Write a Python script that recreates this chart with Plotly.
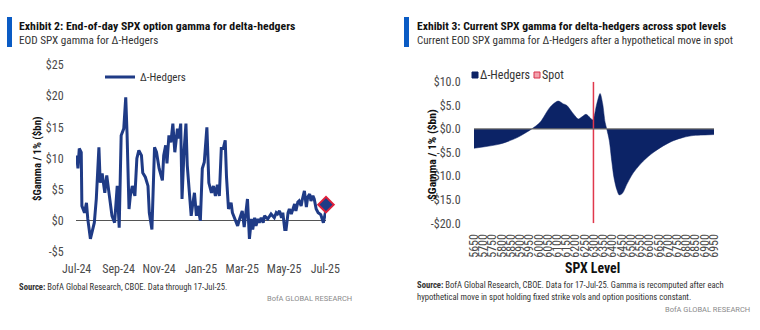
import plotly.graph_objects as go

# ---------------- Exhibit 2: end-of-day SPX gamma for delta-hedgers ($bn per 1%) ----------------
hedger_dates = [
    "2024-07-01", "2024-07-03", "2024-07-05", "2024-07-08", "2024-07-09", "2024-07-13",
    "2024-07-16", "2024-07-18", "2024-07-22", "2024-07-25", "2024-07-28", "2024-07-31",
    "2024-08-04", "2024-08-06", "2024-08-09", "2024-08-13", "2024-08-16", "2024-08-20",
    "2024-08-24", "2024-08-28", "2024-09-01", "2024-09-04", "2024-09-07", "2024-09-11",
    "2024-09-14", "2024-09-16", "2024-09-19", "2024-09-21", "2024-09-24", "2024-09-28",
    "2024-10-01", "2024-10-04", "2024-10-08", "2024-10-10", "2024-10-14", "2024-10-18",
    "2024-10-20", "2024-10-24", "2024-10-28", "2024-10-31", "2024-11-04", "2024-11-09",
    "2024-11-11", "2024-11-14", "2024-11-16", "2024-11-19", "2024-11-22", "2024-11-25",
    "2024-11-28", "2024-12-02", "2024-12-04", "2024-12-07", "2024-12-09", "2024-12-12",
    "2024-12-15", "2024-12-17", "2024-12-20", "2024-12-23", "2024-12-25", "2024-12-28",
    "2024-12-31", "2025-01-02", "2025-01-06", "2025-01-09", "2025-01-12", "2025-01-16",
    "2025-01-19", "2025-01-23", "2025-01-26", "2025-01-29", "2025-02-01", "2025-02-04",
    "2025-02-07", "2025-02-10", "2025-02-13", "2025-02-15", "2025-02-18", "2025-02-22",
    "2025-02-24", "2025-03-01", "2025-03-04", "2025-03-07", "2025-03-11", "2025-03-14",
    "2025-03-17", "2025-03-19", "2025-03-22", "2025-03-25", "2025-03-27", "2025-03-30",
    "2025-04-01", "2025-04-04", "2025-04-06", "2025-04-09", "2025-04-12", "2025-04-14",
    "2025-04-19", "2025-04-24", "2025-04-29", "2025-05-02", "2025-05-04", "2025-05-07",
    "2025-05-10", "2025-05-12", "2025-05-15", "2025-05-17", "2025-05-20", "2025-05-22",
    "2025-05-25", "2025-05-27", "2025-05-30", "2025-06-01", "2025-06-04", "2025-06-06",
    "2025-06-09", "2025-06-11", "2025-06-14", "2025-06-17", "2025-06-19", "2025-06-22",
    "2025-06-24", "2025-06-27", "2025-06-29", "2025-07-02", "2025-07-05", "2025-07-09",
    "2025-07-12", "2025-07-13", "2025-07-16", "2025-07-17",
]
hedger_gamma = [
    10.5, 8.4, 11.6, 11.0, 2.4, 1.3,
    2.9, 0.3, -2.9, -1.5, -0.3, 3.5,
    11.8, 6.1, 7.6, 4.5, 7.3, 4.0,
    0.8, -0.3, 5.6, -1.1, 13.7, 14.8,
    19.8, 14.0, 1.9, 4.0, 5.6, 4.0,
    10.0, 11.3, 10.5, 7.7, 7.0, 5.6,
    1.3, -1.4, 11.8, 11.0, 8.4, 6.5,
    10.5, 12.1, 9.2, 13.7, 12.6, 15.6,
    11.0, 14.8, 13.2, 15.6, 3.5, 11.0,
    15.6, 8.9, 4.0, 0.8, 2.4, 4.5,
    0.8, 2.4, 0.0, 8.4, 9.4, 15.0,
    6.1, 4.5, 5.6, 4.0, 5.8, 4.0,
    11.6, 11.6, 12.9, 7.0, 1.9, 2.9,
    1.3, 0.0, -0.8, 0.3, 1.6, -1.0,
    1.3, 3.5, -2.9, 0.3, -1.4, 0.5,
    -0.8, 0.3, -0.3, 0.5, -0.3, 0.8,
    0.3, 1.1, 0.5, 1.3, 1.1, 1.6,
    0.5, 1.3, -1.4, -1.4, 1.3, 1.9,
    1.1, 1.9, 2.7, 1.6, 3.0, 3.2,
    2.4, 3.5, 4.8, 2.2, 3.8, 4.3,
    3.2, 4.0, 3.5, 1.9, 1.3, 1.0,
    0.0, -0.3, 1.3, 2.6,
]
history_ticks = ["2024-07-01", "2024-09-03", "2024-11-04", "2025-01-07",
                 "2025-03-11", "2025-05-14", "2025-07-16"]
history_tick_text = ["Jul-24", "Sep-24", "Nov-24", "Jan-25", "Mar-25", "May-25", "Jul-25"]
history_y_ticks = [-5, 0, 5, 10, 15, 20, 25]
history_y_text = ["-$5", "$0", "$5", "$10", "$15", "$20", "$25"]

# ---------------- Exhibit 3: gamma after a hypothetical move in spot ----------------
spx_levels = [5650, 5791, 5881, 5935, 5963, 6008, 6062, 6105, 6134, 6152,
              6188, 6215, 6233, 6257, 6278, 6293, 6315, 6333, 6347, 6360,
              6369, 6383, 6396, 6408, 6423, 6437, 6455, 6477, 6513, 6567,
              6621, 6675, 6730, 6784, 6838, 6892, 6950]
level_gamma = [-4.1, -3.2, -1.9, -0.7, 0.0, 1.4, 4.6, 5.9, 5.3, 5.0,
               3.2, 2.1, 2.5, 3.1, 2.4, 1.9, 5.3, 7.5, 5.3, 1.4,
               0.0, -2.5, -6.8, -10.3, -12.8, -14.0, -13.6, -11.8, -9.3, -6.8,
               -5.0, -3.6, -2.5, -1.8, -1.4, -1.3, -1.2]
spot_level = 6297
level_ticks = [5650, 5700, 5750, 5800, 5850, 5900, 5950, 6000, 6050, 6100,
               6150, 6200, 6250, 6300, 6350, 6400, 6450, 6500, 6550, 6600,
               6650, 6700, 6750, 6800, 6850, 6900, 6950]
level_y_ticks = [-20, -15, -10, -5, 0, 5, 10]
level_y_text = ["-$20.0", "-$15.0", "-$10.0", "-$5.0", "$0.0", "$5.0", "$10.0"]
level_keys = ["Δ-Hedgers", "Spot"]

# ---------------- styling ----------------
W, H = 760, 330
FONT = "Roboto Condensed, Liberation Sans Narrow, Arial Narrow, sans-serif"
WIDE_FONT = "Roboto, Liberation Sans, Arial, sans-serif"
LINE_NAVY = "#1f3b86"
AREA_NAVY = "#0c2366"
BAR_BLUE = "#0a5bc4"
SPOT_RED = "#e0384c"
SPOT_PINK = "#f2a3ae"
TICK_GREY = "#4a4a4a"


def px_x(p):
    return p / W


def px_y(p):
    return 1 - p / H


fig = go.Figure()

fig.add_trace(go.Scatter(
    x=hedger_dates, y=hedger_gamma, mode="lines", name="Δ-Hedgers",
    line=dict(color=LINE_NAVY, width=3), xaxis="x", yaxis="y",
))
fig.add_trace(go.Scatter(
    x=hedger_dates[-1:], y=hedger_gamma[-1:], mode="markers", showlegend=False,
    marker=dict(symbol="diamond", size=12, color=LINE_NAVY, line=dict(color="#e0203a", width=2)),
    cliponaxis=False, xaxis="x", yaxis="y",
))

fig.add_trace(go.Scatter(
    x=spx_levels, y=level_gamma, mode="lines", fill="tozeroy", fillcolor=AREA_NAVY,
    line=dict(color=AREA_NAVY, width=0.5, shape="spline", smoothing=0.8),
    showlegend=False, xaxis="x2", yaxis="y2",
))
fig.add_trace(go.Scatter(
    x=[spot_level, spot_level], y=[level_y_ticks[0], level_y_ticks[-1]], mode="lines",
    line=dict(color=SPOT_RED, width=1.5), showlegend=False, xaxis="x2", yaxis="y2",
))

fig.add_shape(type="line", xref="x2 domain", x0=0, x1=1, yref="y2", y0=0, y1=0,
              line=dict(color="#6b6b6b", width=1.2), layer="above")

axis_common = dict(showgrid=False, showline=False, zeroline=False, automargin=False,
                   tickfont=dict(family=FONT, size=12, color=TICK_GREY))
hidden_ticks = dict(ticks="outside", tickcolor="rgba(0,0,0,0)")

fig.update_layout(
    width=W, height=H, margin=dict(l=0, r=0, t=0, b=0, autoexpand=False),
    paper_bgcolor="white", plot_bgcolor="white",
    font=dict(family=FONT, color="#222"),
    xaxis=dict(**axis_common, **hidden_ticks, ticklen=6, domain=[px_x(76), px_x(326)], type="date",
               range=["2024-06-30", "2025-07-17"], tickvals=history_ticks,
               ticktext=history_tick_text, anchor="y"),
    yaxis=dict(**{**axis_common, "zeroline": True}, **hidden_ticks, ticklen=9,
               zerolinecolor="#555555", zerolinewidth=1.2,
               domain=[px_y(252), px_y(65)], range=[-5, 25],
               tickvals=history_y_ticks, ticktext=history_y_text, anchor="x"),
    xaxis2=dict(**axis_common, **hidden_ticks, ticklen=5,
                domain=[px_x(474), px_x(714)], range=[level_ticks[0], level_ticks[-1]],
                tickvals=level_ticks, tickangle=-90, anchor="y2"),
    yaxis2=dict(**axis_common, **hidden_ticks, ticklen=10, domain=[px_y(223.3), px_y(81.7)],
                range=[level_y_ticks[0], level_y_ticks[-1]],
                tickvals=level_y_ticks, ticktext=level_y_text, anchor="x2"),
    showlegend=True,
    legend=dict(x=px_x(100), y=px_y(77), xanchor="left", yanchor="middle",
                bgcolor="rgba(0,0,0,0)", itemwidth=30,
                font=dict(family=FONT, size=11, color="#333")),
)

# header bars
for x0 in (7, 404):
    fig.add_shape(type="rect", xref="paper", yref="paper",
                  x0=px_x(x0), x1=px_x(x0 + 5), y0=px_y(47), y1=px_y(17),
                  fillcolor=BAR_BLUE, line=dict(width=0))


def note(text, x, y, size, color="#222", xanchor="left", bold=False, angle=0, family=FONT):
    fig.add_annotation(text=f"<b>{text}</b>" if bold else text, x=px_x(x), y=px_y(y),
                       xref="paper", yref="paper", xanchor=xanchor, yanchor="middle",
                       showarrow=False, textangle=angle,
                       font=dict(family=family, size=size, color=color))


# key for the right panel: small squares followed by their labels
key_squares = [(472, AREA_NAVY, AREA_NAVY), (534, SPOT_PINK, "#d9304a")]
for (kx, fill, edge), label in zip(key_squares, level_keys):
    fig.add_shape(type="rect", xref="paper", yref="paper",
                  x0=px_x(kx), x1=px_x(kx + 6), y0=px_y(78), y1=px_y(72),
                  fillcolor=fill, line=dict(color=edge, width=1))
    note(label, kx + 6, 75, 12, "#333")

note("Exhibit 2: End-of-day SPX option gamma for delta-hedgers", 17, 26, 11.8, "#111", bold=True)
note("EOD SPX gamma for Δ-Hedgers", 17, 40, 11.2, "#333")
note("Exhibit 3: Current SPX gamma for delta-hedgers across spot levels", 415, 26, 11.6, "#111", bold=True)
note("Current EOD SPX gamma for Δ-Hedgers after a hypothetical move in spot", 415, 40, 11.0, "#333")

note("$Gamma / 1% ($bn)", 37, 159, 10.8, "#111", xanchor="center", bold=True, angle=-90)
note("$Gamma / 1% ($bn)", 432, 155, 11.6, "#111", xanchor="center", bold=True, angle=-90)
note("SPX Level", 592, 268, 13.8, "#111", xanchor="center", bold=True)

note("<b>Source:</b> BofA Global Research, CBOE. Data through 17-Jul-25.", 17, 287, 8.6, "#333")
note("BofA GLOBAL RESEARCH", 354, 298, 7.5, "#8a8a8a", xanchor="right", family=WIDE_FONT)
note("<b>Source:</b> BofA Global Research, CBOE. Data for 17-Jul-25. Gamma is recomputed after each",
     415, 285, 8.6, "#333")
note("hypothetical move in spot holding fixed strike vols and option positions constant.",
     415, 297, 8.6, "#333")
note("BofA GLOBAL RESEARCH", 752, 309, 7.5, "#8a8a8a", xanchor="right", family=WIDE_FONT)

fig.write_html("out.html")
